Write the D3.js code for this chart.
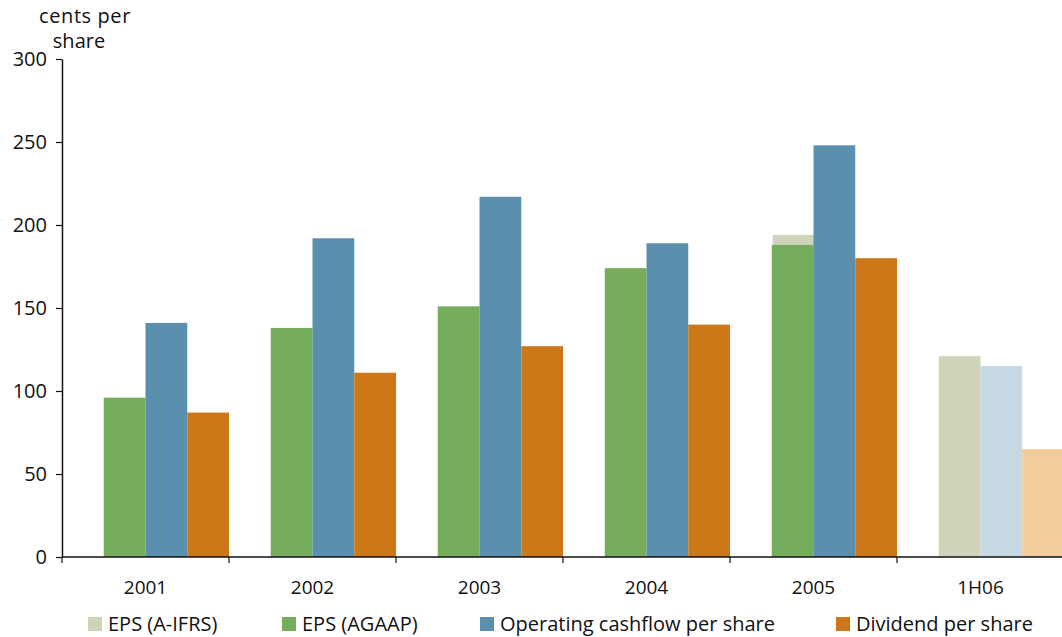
<!DOCTYPE html>
<html>
<head>
<meta charset="utf-8">
<script src="https://cdn.jsdelivr.net/npm/d3@7"></script>
<style>
  body { margin: 0; background: #fff; }
  svg { display: block; }
  text { font-family: "Open Sans", "DejaVu Sans", sans-serif; fill: #111; }
</style>
</head>
<body>
<svg id="chart" width="1062" height="637"></svg>
<script>
// Per-share figures, cents
const periods = ["2001", "2002", "2003", "2004", "2005", "1H06"];
const epsIfrs = [null, null, null, null, 194, 121];
const epsAgaap = [96, 138, 151, 174, 188, null];
const cashflow = [141, 192, 217, 189, 248, 115];
const dividend = [87, 111, 127, 140, 180, 65];
const yTicks = [0, 50, 100, 150, 200, 250, 300];

const seriesNames = ["EPS (A-IFRS)", "EPS (AGAAP)", "Operating cashflow per share", "Dividend per share"];
const colors = {
  ifrs: "#cfd3b8", agaap: "#76ad5c", cash: "#5b8fae", div: "#cd7818",
  // half-year figures are shown in lighter tints
  cashHalf: "#c5d8e3", divHalf: "#f3cc9c"
};

const svg = d3.select("#chart");
const margin = { left: 62, top: 59, bottom: 80 };
const plotRight = 1064;
const y0 = 557;

const x = d3.scaleBand().domain(periods).range([margin.left, plotRight]).padding(0);
const slot = d3.scaleBand().domain(["blank", "eps", "cash", "div"]).range([0, x.bandwidth()]).padding(0);
const y = d3.scaleLinear().domain([0, 300]).range([y0, margin.top]);

const rows = periods.map((p, i) => ({
  p, ifrs: epsIfrs[i], agaap: epsAgaap[i], cash: cashflow[i], div: dividend[i], half: p === "1H06"
}));

const g = svg.append("g");

// EPS under A-IFRS sits behind the AGAAP bar in the same slot
g.selectAll("rect.ifrs").data(rows.filter(d => d.ifrs != null)).join("rect")
  .attr("class", "ifrs")
  .attr("x", d => x(d.p) + slot("eps") + (d.half ? 0 : 1))
  .attr("width", slot.bandwidth())
  .attr("y", d => y(d.ifrs)).attr("height", d => y0 - y(d.ifrs))
  .attr("fill", colors.ifrs);

g.selectAll("rect.agaap").data(rows.filter(d => d.agaap != null)).join("rect")
  .attr("class", "agaap")
  .attr("x", d => x(d.p) + slot("eps"))
  .attr("width", slot.bandwidth())
  .attr("y", d => y(d.agaap)).attr("height", d => y0 - y(d.agaap))
  .attr("fill", colors.agaap);

g.selectAll("rect.cash").data(rows).join("rect")
  .attr("class", "cash")
  .attr("x", d => x(d.p) + slot("cash"))
  .attr("width", slot.bandwidth())
  .attr("y", d => y(d.cash)).attr("height", d => y0 - y(d.cash))
  .attr("fill", d => d.half ? colors.cashHalf : colors.cash);

g.selectAll("rect.div").data(rows).join("rect")
  .attr("class", "div")
  .attr("x", d => x(d.p) + slot("div"))
  .attr("width", slot.bandwidth())
  .attr("y", d => y(d.div)).attr("height", d => y0 - y(d.div))
  .attr("fill", d => d.half ? colors.divHalf : colors.div);

// Y axis
const yAxis = svg.append("g")
  .attr("transform", `translate(${margin.left},0)`)
  .call(d3.axisLeft(y).tickValues(yTicks).tickSize(6).tickSizeOuter(0).tickPadding(9));
yAxis.select(".domain").attr("stroke", "#111").attr("stroke-width", 1.5);
yAxis.selectAll(".tick line").attr("stroke", "#111").attr("stroke-width", 1.2);
yAxis.selectAll(".tick text")
  .style("font-size", "20px").style("font-weight", 500).attr("fill", "#111");

// X axis: ticks sit on category boundaries, labels centred in each band
const xAxisG = svg.append("g").attr("transform", `translate(0,${y0})`);
xAxisG.append("line").attr("x1", margin.left).attr("x2", plotRight)
  .attr("stroke", "#111").attr("stroke-width", 1.5);
xAxisG.selectAll("line.tick").data(periods.map(p => x(p)).concat([x.range()[1]])).join("line")
  .attr("class", "tick")
  .attr("x1", d => d).attr("x2", d => d).attr("y1", 0).attr("y2", 6)
  .attr("stroke", "#111").attr("stroke-width", 1.2);
xAxisG.selectAll("text").data(periods).join("text")
  .attr("x", d => x(d) + x.bandwidth() / 2)
  .attr("y", 37)
  .attr("text-anchor", "middle")
  .style("font-size", "19px").style("font-weight", 500)
  .text(d => d);

// Unit label
const unit = svg.append("text").attr("text-anchor", "middle")
  .style("font-size", "20px").style("font-weight", 500);
unit.append("tspan").attr("x", 85).attr("y", 23).attr("letter-spacing", "0.6px").text("cents per");
unit.append("tspan").attr("x", 79).attr("y", 48).text("share");

// Legend
const legendItems = [
  { name: seriesNames[0], color: colors.ifrs, x: 88 },
  { name: seriesNames[1], color: colors.agaap, x: 282 },
  { name: seriesNames[2], color: colors.cash, x: 480 },
  { name: seriesNames[3], color: colors.div, x: 836 }
];
const lg = svg.append("g").selectAll("g").data(legendItems).join("g")
  .attr("transform", d => `translate(${d.x},617)`);
lg.append("rect").attr("width", 14).attr("height", 14).attr("fill", d => d.color);
lg.append("text").attr("x", 20).attr("y", 14)
  .style("font-size", "20px").style("font-weight", 500)
  .text(d => d.name);
</script>
</body>
</html>
